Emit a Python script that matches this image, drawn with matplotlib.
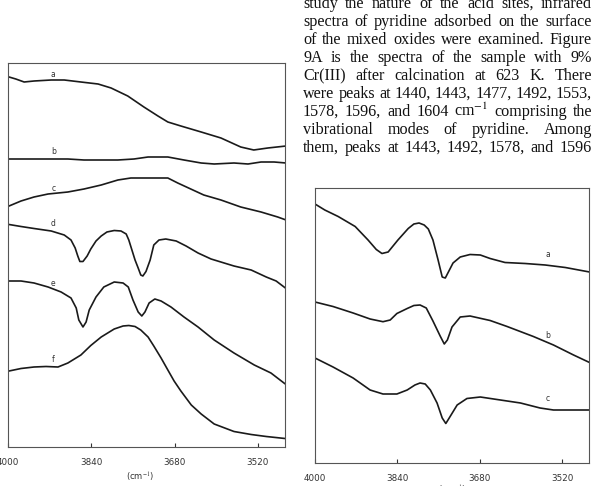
import matplotlib
matplotlib.use("Agg")
import matplotlib.pyplot as plt

plt.rcParams['mathtext.fontset'] = 'stix'

# ---- panel A (left): IR spectra a-f, wavenumber (cm-1) vs. arbitrary transmittance
a_wn = [3998, 3985, 3969, 3950, 3917, 3892, 3860, 3827, 3802, 3770, 3739, 3712, 3693, 3668, 3629, 3591, 3553, 3528, 3501, 3466]
a_val = [370, 368, 365, 366, 367, 367, 365, 363, 359, 351, 340, 331, 325, 321, 315, 309, 300, 297, 299, 301]

b_wn = [3998, 3950, 3917, 3885, 3854, 3821, 3789, 3758, 3731, 3712, 3693, 3662, 3629, 3604, 3566, 3539, 3514, 3489, 3466]
b_val = [288, 288, 288, 288, 287, 287, 287, 288, 290, 290, 290, 287, 284, 283, 284, 283, 285, 285, 284]

c_wn = [3998, 3975, 3950, 3923, 3885, 3854, 3821, 3789, 3764, 3739, 3712, 3693, 3674, 3649, 3624, 3591, 3553, 3514, 3482, 3466]
c_val = [241, 246, 250, 253, 255, 258, 262, 267, 269, 269, 269, 269, 264, 258, 252, 247, 240, 235, 230, 227]

d_wn = [3998, 3975, 3950, 3917, 3892, 3879, 3871, 3866, 3862, 3856, 3848, 3841, 3831, 3821, 3810, 3796, 3783, 3773,
        3768, 3762, 3756, 3750, 3745, 3741, 3735, 3727, 3720, 3710, 3697, 3677, 3658, 3635, 3610, 3566, 3533, 3504, 3485, 3466]
d_val = [222.5, 220.5, 218.5, 216, 212, 207, 199, 191, 185.5, 185.5, 191, 198, 206, 211, 215, 216.5, 216, 213,
         207, 197, 187, 179, 172, 171, 175.5, 187, 202, 207, 208, 206, 201, 194, 188, 181, 177, 170, 166, 158.5]

e_wn = [3998, 3975, 3950, 3923, 3898, 3879, 3869, 3864, 3856, 3850, 3844, 3831, 3816, 3796, 3779, 3769, 3760, 3750,
        3743, 3737, 3729, 3718, 3706, 3687, 3662, 3635, 3604, 3566, 3527, 3495, 3470, 3466]
e_val = [166, 166, 164, 160, 155, 149, 139, 127, 120, 125, 137, 150, 160, 165, 164, 160, 147, 135,
         131, 135, 144, 148, 146, 140, 130, 120, 107, 94, 82, 74, 64, 62.5]

f_wn = [3998, 3975, 3950, 3927, 3904, 3885, 3860, 3841, 3821, 3796, 3779, 3768, 3756, 3745, 3731, 3720, 3706, 3693,
        3681, 3668, 3648, 3629, 3604, 3566, 3533, 3504, 3468]
f_val = [76, 78.5, 80, 80.5, 80, 84, 92, 101.5, 110, 118, 121, 121.5, 120.5, 117, 110, 101, 89, 77,
         66, 56, 42, 33, 23, 15.5, 12.5, 10.5, 8.5]

left_series = [('a', a_wn, a_val, 373), ('b', b_wn, b_val, 296), ('c', c_wn, c_val, 259),
               ('d', d_wn, d_val, 224), ('e', e_wn, e_val, 164), ('f', f_wn, f_val, 88)]

# ---- panel B (right): spectra a-c
ra_wn = [4000, 3981, 3955, 3922, 3897, 3881, 3870, 3858, 3839, 3819, 3808, 3798, 3788, 3780, 3771, 3761, 3753, 3747,
         3740, 3732, 3718, 3699, 3679, 3660, 3631, 3592, 3553, 3514, 3467]
ra_val = [259, 253, 246.5, 236.5, 223, 213.5, 209.5, 211, 223, 234.5, 239, 240, 238, 234, 223, 203, 186, 185,
          192, 200, 206, 208.5, 208, 204.5, 200.5, 199.5, 198, 195.5, 191]

rb_wn = [4000, 3965, 3926, 3893, 3868, 3854, 3841, 3821, 3808, 3796, 3784, 3771, 3757, 3749, 3743, 3734, 3718, 3699,
         3660, 3627, 3576, 3537, 3498, 3467]
rb_val = [161, 156.5, 150, 144, 141.3, 143, 149.5, 154.5, 157.5, 158, 155, 142, 127, 119, 123, 136, 146, 147,
          142.5, 136.5, 126.5, 118, 108, 100.5]

rc_wn = [4000, 3965, 3926, 3893, 3868, 3841, 3821, 3806, 3796, 3786, 3776, 3763, 3753, 3746, 3740, 3724, 3705, 3679,
         3640, 3601, 3563, 3537, 3467]
rc_val = [105, 96, 85, 73, 69, 69, 73, 78, 80, 79, 73, 60, 45, 39.5, 44.5, 58, 64.5, 66,
          63, 60, 55, 53, 53]

right_series = [('a', ra_wn, ra_val, 209), ('b', rb_wn, rb_val, 128), ('c', rc_wn, rc_val, 65)]

xticks = [4000, 3840, 3680, 3520]

text_lines = [
    "study the nature of the acid sites, infrared",
    "spectra of pyridine adsorbed on the surface",
    "of the mixed oxides were examined. Figure",
    "9A is the spectra of the sample with 9%",
    "Cr(III) after calcination at 623 K. There",
    "were peaks at 1440, 1443, 1477, 1492, 1553,",
    "1578, 1596, and 1604 cm$^{-1}$ comprising the",
    "vibrational modes of pyridine. Among",
    "them, peaks at 1443, 1492, 1578, and 1596",
]

W, H = 597, 486
fig = plt.figure(figsize=(W / 100, H / 100), dpi=100)


def style_axes(ax, ylim):
    ax.set_xlim(4000, 3468)
    ax.set_ylim(*ylim)
    ax.set_yticks([])
    ax.set_xticks(xticks)
    ax.set_xticklabels([str(t) for t in xticks])
    ax.tick_params(axis='x', direction='in', length=3, width=0.8, pad=8,
                   labelsize=6.3, colors='#333')
    for s in ax.spines.values():
        s.set_linewidth(0.8)
        s.set_color('#555')


axL = fig.add_axes([8 / W, 39 / H, 277 / W, 384 / H])
for name, wn, val, ylab in left_series:
    axL.plot(wn, val, color='#1a1a1a', lw=1.2)
    axL.text(3913, ylab, name, fontsize=5.5, ha='center', va='center', color='#333')
style_axes(axL, (0, 384))
axL.text(0.475, -30 / 384, '(cm$^{-1}$)', transform=axL.transAxes, ha='center', va='center',
         fontsize=6, color='#333')

axR = fig.add_axes([315 / W, 23 / H, 274 / W, 275 / H])
for name, wn, val, ylab in right_series:
    axR.plot(wn, val, color='#1a1a1a', lw=1.2)
    axR.text(3548, ylab, name, fontsize=5.5, ha='center', va='center', color='#333')
style_axes(axR, (0, 275))
# axis label of the right panel, mostly below the page edge as in the scan
fig.text(452 / W, 1 - 483.5 / H, '(cm$^{-1}$)', ha='center', va='top', fontsize=6, color='#333')

# justified paragraph of body text, top right
fig.canvas.draw()
rend = fig.canvas.get_renderer()
x0, x1 = 303, 592
base = 10
probe = [fig.text(0, 0, ln, fontsize=base, family='Liberation Serif') for ln in text_lines]
fs = min(base * (x1 - x0) / p.get_window_extent(rend).width for p in probe)
for p in probe:
    p.remove()

for i, line in enumerate(text_lines):
    ybase = 1 - (8 + 18.0 * i) / H
    words = line.split(' ')
    ts = [fig.text(0, ybase, w, fontsize=fs, family='Liberation Serif', va='baseline',
                   color='#111') for w in words]
    widths = [t.get_window_extent(rend).width for t in ts]
    gap = (x1 - x0 - sum(widths)) / (len(words) - 1)
    x = x0
    for t, w in zip(ts, widths):
        t.set_x(x / W)
        x += w + gap

fig.savefig('out.png', dpi=100)
